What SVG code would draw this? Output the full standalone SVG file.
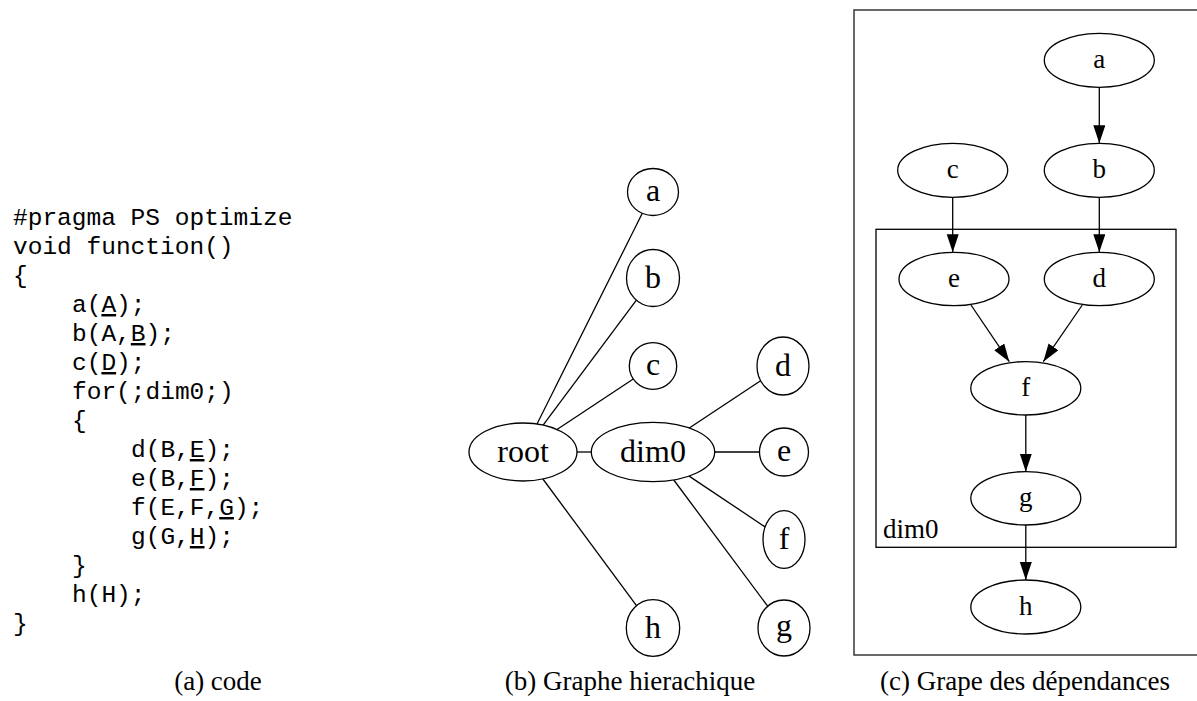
<svg xmlns="http://www.w3.org/2000/svg" width="1197" height="701" viewBox="0 0 1197 701">
<style>
.code{font-family:"Liberation Mono","DejaVu Sans Mono",monospace;font-size:24.5px;fill:#000}
.u{text-decoration:underline}
.cap{font-family:"Liberation Serif","DejaVu Serif",serif;font-size:27px;fill:#000;text-anchor:middle}
.lb{font-family:"Liberation Serif","DejaVu Serif",serif;font-size:32px;fill:#000;text-anchor:middle}
.lc{font-family:"Liberation Serif","DejaVu Serif",serif;font-size:27px;fill:#000;text-anchor:middle}
.n{fill:#fff;stroke:#000;stroke-width:1.3}
.e{stroke:#000;stroke-width:1.3;fill:none}
.a{stroke:#000;stroke-width:1.3;fill:none;marker-end:url(#arr)}
</style>
<defs>
<marker id="arr" markerUnits="userSpaceOnUse" markerWidth="19" markerHeight="13" refX="18" refY="6" orient="auto">
<path d="M0,0 L18,6 L0,12 z" fill="#000"/>
</marker>
</defs>
<rect width="1197" height="701" fill="#fff"/>

<!-- (a) code -->
<g id="code">
<text class="code" x="13" y="225">#pragma PS optimize</text>
<text class="code" x="13" y="254">void function()</text>
<text class="code" x="13" y="283">{</text>
<text class="code" x="72" y="312">a(<tspan class="u">A</tspan>);</text>
<text class="code" x="72" y="341">b(A,<tspan class="u">B</tspan>);</text>
<text class="code" x="72" y="370">c(<tspan class="u">D</tspan>);</text>
<text class="code" x="72" y="399">for(;dim0;)</text>
<text class="code" x="72" y="428">{</text>
<text class="code" x="131" y="457">d(B,<tspan class="u">E</tspan>);</text>
<text class="code" x="131" y="486">e(B,<tspan class="u">F</tspan>);</text>
<text class="code" x="131" y="515">f(E,F,<tspan class="u">G</tspan>);</text>
<text class="code" x="131" y="544">g(G,<tspan class="u">H</tspan>);</text>
<text class="code" x="72" y="573">}</text>
<text class="code" x="72" y="602">h(H);</text>
<text class="code" x="13" y="631">}</text>
</g>
<text class="cap" x="218" y="690">(a) code</text>

<!-- (b) hierarchical graph -->
<g id="b-edges">
<line class="e" x1="537" y1="424" x2="642.3" y2="213.3"/>
<line class="e" x1="543.1" y1="425.1" x2="636.4" y2="300.2"/>
<line class="e" x1="557" y1="429.5" x2="633.3" y2="379"/>
<line class="e" x1="542.9" y1="479" x2="636.5" y2="605.7"/>
<line class="e" x1="577" y1="452" x2="591.3" y2="452"/>
<line class="e" x1="689.3" y1="428" x2="760.6" y2="380.8"/>
<line class="e" x1="714.7" y1="452" x2="759.5" y2="452"/>
<line class="e" x1="689.1" y1="476.1" x2="765.1" y2="526.9"/>
<line class="e" x1="673.8" y1="480" x2="767.7" y2="606.2"/>
</g>
<g id="b-root"><ellipse class="n" cx="523" cy="452" rx="54" ry="29"/><text class="lb" x="523" y="462">root</text></g>
<g id="b-dim0"><ellipse class="n" cx="653" cy="452" rx="61.7" ry="29.7"/><text class="lb" x="653" y="462">dim0</text></g>
<g id="b-a"><ellipse class="n" cx="653" cy="192" rx="25.5" ry="23.5"/><text class="lb" x="653" y="201">a</text></g>
<g id="b-b"><ellipse class="n" cx="653" cy="278" rx="26.5" ry="28.5"/><text class="lb" x="653" y="288">b</text></g>
<g id="b-c"><ellipse class="n" cx="653" cy="366" rx="23.7" ry="23.3"/><text class="lb" x="653" y="375">c</text></g>
<g id="b-d"><ellipse class="n" cx="783" cy="366" rx="26" ry="29"/><text class="lb" x="783" y="376">d</text></g>
<g id="b-e"><ellipse class="n" cx="784" cy="452" rx="24.5" ry="24"/><text class="lb" x="784" y="461">e</text></g>
<g id="b-f"><ellipse class="n" cx="784" cy="539.5" rx="21" ry="28.8"/><text class="lb" x="784" y="549">f</text></g>
<g id="b-g"><ellipse class="n" cx="784" cy="628" rx="26" ry="28"/><text class="lb" x="784" y="636">g</text></g>
<g id="b-h"><ellipse class="n" cx="653" cy="628" rx="26.7" ry="28.3"/><text class="lb" x="653" y="638">h</text></g>
<text class="cap" x="630" y="690">(b) Graphe hierachique</text>

<!-- (c) dependency graph -->
<g id="c-frame"><rect x="854" y="10" width="350" height="645" fill="none" stroke="#444" stroke-width="1.6"/></g>
<g id="c-dim0"><rect x="876" y="229.3" width="300" height="318" fill="none" stroke="#000" stroke-width="1.3"/><text class="lc" x="883" y="538" style="text-anchor:start">dim0</text></g>
<g id="c-edges">
<line class="a" x1="1099.3" y1="87.3" x2="1099.3" y2="143.3"/>
<line class="a" x1="952.7" y1="197" x2="952.7" y2="252.3"/>
<line class="a" x1="1099.3" y1="197.3" x2="1099.3" y2="252.3"/>
<line class="a" x1="971" y1="305" x2="1009.3" y2="361.7"/>
<line class="a" x1="1082.3" y1="305" x2="1043.3" y2="361.7"/>
<line class="a" x1="1025.8" y1="415" x2="1025.8" y2="471.7"/>
<line class="a" x1="1025.8" y1="525" x2="1025.8" y2="580"/>
</g>
<g id="c-a"><ellipse class="n" cx="1099.3" cy="60.3" rx="55" ry="27"/><text class="lc" x="1099.3" y="68.3">a</text></g>
<g id="c-b"><ellipse class="n" cx="1099.3" cy="170.3" rx="55" ry="27"/><text class="lc" x="1099.3" y="178.3">b</text></g>
<g id="c-c"><ellipse class="n" cx="952.7" cy="170.3" rx="55" ry="27"/><text class="lc" x="952.7" y="178.3">c</text></g>
<g id="c-e"><ellipse class="n" cx="954" cy="279" rx="55" ry="26.7"/><text class="lc" x="954" y="287">e</text></g>
<g id="c-d"><ellipse class="n" cx="1099.3" cy="279" rx="55" ry="26.7"/><text class="lc" x="1099.3" y="287">d</text></g>
<g id="c-f"><ellipse class="n" cx="1025.8" cy="388.3" rx="55" ry="26.7"/><text class="lc" x="1025.8" y="396.3">f</text></g>
<g id="c-g"><ellipse class="n" cx="1025.8" cy="498.3" rx="55" ry="26.7"/><text class="lc" x="1025.8" y="506.3">g</text></g>
<g id="c-h"><ellipse class="n" cx="1025.8" cy="607" rx="55" ry="27"/><text class="lc" x="1025.8" y="615">h</text></g>
<text class="cap" x="1025" y="690">(c) Grape des dépendances</text>
</svg>
